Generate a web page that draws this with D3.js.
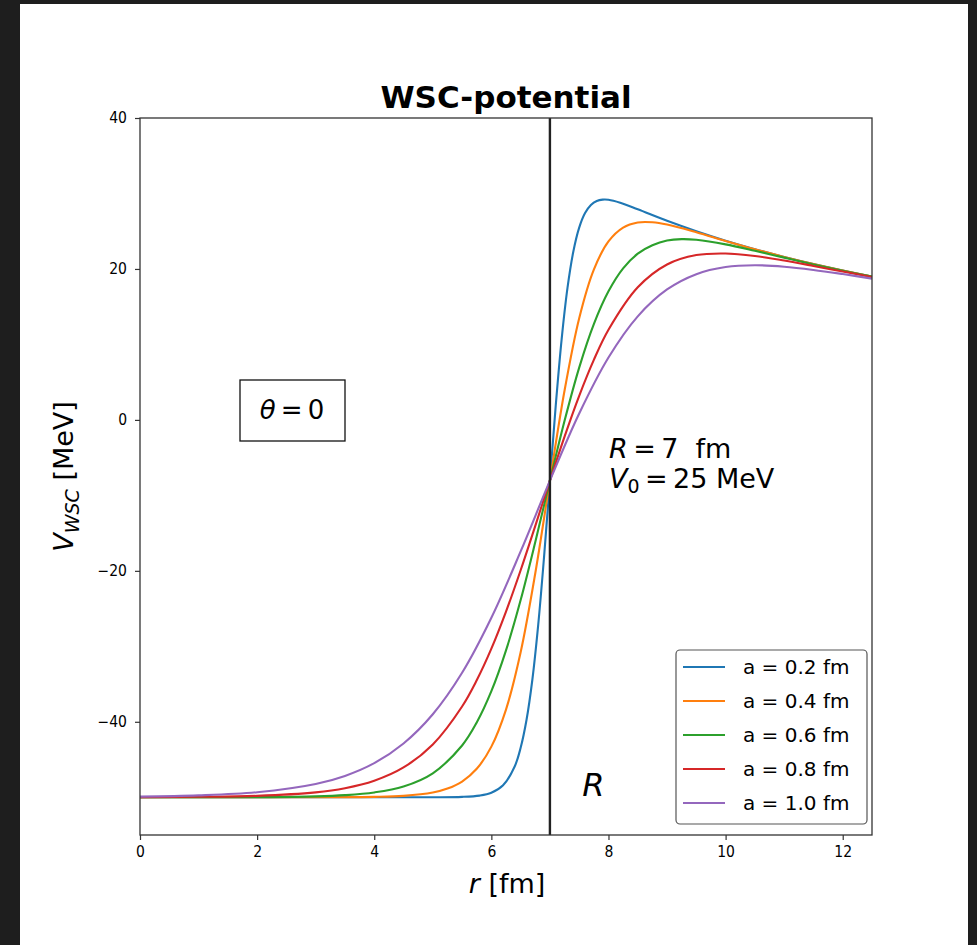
<!DOCTYPE html>
<html>
<head>
<meta charset="utf-8">
<script src="https://cdn.jsdelivr.net/npm/d3@7"></script>
<style>
  html, body { margin: 0; padding: 0; background: #1e1e1e; }
  svg { display: block; }
  text { font-family: "DejaVu Sans", sans-serif; fill: #000; }
</style>
</head>
<body>
<svg id="chart" width="977" height="945"></svg>
<script>
// ---- data ----
const seriesLabels = ["a = 0.2 fm", "a = 0.4 fm", "a = 0.6 fm", "a = 0.8 fm", "a = 1.0 fm"];
const seriesColors = ["#1f77b4", "#ff7f0e", "#2ca02c", "#d62728", "#9467bd"];

const rA02 = [0, 2, 4, 5, 5.5, 5.8, 6, 6.2, 6.4, 6.5, 6.6, 6.7, 6.8, 6.9, 7, 7.1, 7.2, 7.3, 7.4, 7.5, 7.6, 7.7, 7.8, 7.9, 8, 8.2, 8.5, 9, 9.5, 10, 10.5, 11, 11.5, 12, 12.5];
const vA02 = [-50, -50, -50, -50, -49.95, -49.78, -49.41, -48.42, -45.89, -43.45, -39.77, -34.43, -27.17, -18.14, -8.04, 1.95, 10.67, 17.48, 22.31, 25.47, 27.40, 28.47, 29.00, 29.18, 29.16, 28.77, 27.90, 26.38, 25.0, 23.75, 22.62, 21.59, 20.65, 19.79, 19.0];

const rA04 = [0, 2, 3, 4, 4.5, 5, 5.25, 5.5, 5.75, 6, 6.25, 6.5, 6.75, 7, 7.25, 7.5, 7.75, 8, 8.25, 8.5, 8.75, 9, 9.5, 10, 10.5, 11, 11.5, 12, 12.5];
const vA04 = [-50, -50, -50, -49.95, -49.82, -49.38, -48.85, -47.92, -46.23, -43.29, -38.38, -30.79, -20.32, -8.04, 3.90, 13.48, 19.92, 23.64, 25.47, 26.15, 26.18, 25.88, 24.86, 23.71, 22.61, 21.59, 20.65, 19.79, 19.0];

const rA06 = [0, 1, 2, 3, 3.5, 4, 4.5, 5, 5.5, 5.75, 6, 6.25, 6.5, 6.75, 7, 7.25, 7.5, 7.75, 8, 8.25, 8.5, 8.75, 9, 9.25, 9.5, 10, 10.5, 11, 11.5, 12, 12.5];
const vA06 = [-50, -50, -49.98, -49.88, -49.72, -49.36, -48.57, -46.82, -43.14, -40.10, -35.95, -30.54, -23.87, -16.18, -8.04, -0.12, 6.93, 12.69, 17.03, 20.07, 22.02, 23.13, 23.76, 23.95, 23.86, 23.26, 22.41, 21.50, 20.6, 19.76, 18.98];

const rA08 = [0, 1, 2, 3, 3.5, 4, 4.5, 5, 5.5, 5.75, 6, 6.25, 6.5, 6.75, 7, 7.25, 7.5, 7.75, 8, 8.5, 9, 9.5, 10, 10.5, 11, 11.5, 12, 12.5];
const vA08 = [-49.98, -49.94, -49.81, -49.35, -48.80, -47.81, -46.05, -43.0, -37.97, -34.50, -30.31, -25.40, -19.92, -14.04, -8.04, -2.21, 3.19, 7.95, 11.94, 17.57, 20.59, 21.84, 22.05, 21.72, 21.11, 20.40, 19.66, 18.93];

const rA10 = [0, 1, 2, 3, 3.5, 4, 4.5, 5, 5.5, 6, 6.5, 7, 7.5, 8, 8.5, 9, 9.5, 10, 10.5, 11, 11.5, 12, 12.5];
const vA10 = [-49.91, -49.75, -49.33, -48.24, -47.17, -45.48, -42.87, -39.0, -33.51, -26.22, -17.43, -8.04, 0.84, 8.26, 13.72, 17.28, 19.31, 20.25, 20.49, 20.30, 19.87, 19.32, 18.72];

const xTicks = [0, 2, 4, 6, 8, 10, 12];
const yTicks = [-40, -20, 0, 20, 40];
const xDomain = [0, 12.5];
const yDomain = [-55, 40];
const radiusR = 7;

const seriesR = [rA02, rA04, rA06, rA08, rA10];
const seriesV = [vA02, vA04, vA06, vA08, vA10];

// ---- layout ----
const svg = d3.select("#chart");
const L = 140, T = 118, Rr = 872, B = 835;

svg.append("rect").attr("x", 20).attr("y", 4).attr("width", 948).attr("height", 941).attr("fill", "#ffffff");

const x = d3.scaleLinear().domain(xDomain).range([L, Rr]);
const y = d3.scaleLinear().domain(yDomain).range([B, T]);

svg.append("defs").append("clipPath").attr("id", "clip")
  .append("rect").attr("x", L).attr("y", T).attr("width", Rr - L).attr("height", B - T);

const fmt = d => (d < 0 ? "\u2212" + Math.abs(d) : String(d));

// axes
const xAxis = svg.append("g").attr("transform", `translate(0,${B})`)
  .call(d3.axisBottom(x).tickValues(xTicks).tickSize(5).tickPadding(6).tickFormat(fmt));
const yAxis = svg.append("g").attr("transform", `translate(${L},0)`)
  .call(d3.axisLeft(y).tickValues(yTicks).tickSize(5).tickPadding(8).tickFormat(fmt));
[xAxis, yAxis].forEach(g => {
  g.select(".domain").remove();
  g.selectAll(".tick line").attr("stroke", "#333").attr("stroke-width", 1.2);
  g.selectAll(".tick text").style("font-size", "15.5px").attr("fill", "#222")
    .style("font-family", "'DejaVu Sans Condensed', 'DejaVu Sans', sans-serif")
    .style("font-stretch", "condensed");
});

// lines
const line = d3.line().curve(d3.curveCatmullRom.alpha(0.5)).x(d => x(d[0])).y(d => y(d[1]));
const plot = svg.append("g").attr("clip-path", "url(#clip)");
seriesR.forEach((rs, i) => {
  const pts = rs.map((r, j) => [r, seriesV[i][j]]);
  plot.append("path").datum(pts).attr("d", line)
    .attr("fill", "none").attr("stroke", seriesColors[i]).attr("stroke-width", 2.1);
});

// vertical line at R
plot.append("line").attr("x1", x(radiusR)).attr("x2", x(radiusR)).attr("y1", T).attr("y2", B)
  .attr("stroke", "#222").attr("stroke-width", 2.4);

// frame
svg.append("rect").attr("x", L).attr("y", T).attr("width", Rr - L).attr("height", B - T)
  .attr("fill", "none").attr("stroke", "#333").attr("stroke-width", 1.3);

// title
svg.append("text").attr("x", (L + Rr) / 2).attr("y", 108).attr("text-anchor", "middle")
  .attr("font-size", 31).attr("font-weight", "bold").text("WSC-potential");

// x label
const xl = svg.append("text").attr("x", (L + Rr) / 2 + 1).attr("y", 893).attr("text-anchor", "middle")
  .attr("font-size", 27);
xl.append("tspan").attr("font-style", "italic").text("r");
xl.append("tspan").text(" [fm]");

// y label
const yl = svg.append("text").attr("transform", `translate(73,${(T + B) / 2}) rotate(-90)`)
  .attr("text-anchor", "middle").attr("font-size", 27);
yl.append("tspan").attr("font-style", "italic").text("V");
yl.append("tspan").attr("font-style", "italic").attr("font-size", 19).attr("dy", 6).text("WSC");
yl.append("tspan").attr("dy", -6).text(" [MeV]");

// theta box
svg.append("rect").attr("x", 240).attr("y", 380).attr("width", 105).attr("height", 61)
  .attr("fill", "#fff").attr("stroke", "#111").attr("stroke-width", 1.3);
const th = svg.append("text").attr("x", 292).attr("y", 419).attr("text-anchor", "middle").attr("font-size", 26);
th.append("tspan").attr("font-style", "italic").text("\u03b8");
th.append("tspan").text("\u2009=\u20090");

// R and V0 annotation
const a1 = svg.append("text").attr("x", 609).attr("y", 458).attr("font-size", 27);
a1.append("tspan").attr("font-style", "italic").text("R");
a1.append("tspan").text("\u2009=\u20097\u00a0 fm");
const a2 = svg.append("text").attr("x", 609).attr("y", 488).attr("font-size", 27);
a2.append("tspan").attr("font-style", "italic").text("V");
a2.append("tspan").attr("font-size", 19).attr("dy", 5).text("0");
a2.append("tspan").attr("dy", -5).text("\u2009=\u200925 MeV");

// big R label
svg.append("text").attr("x", x(7.55)).attr("y", y(-49.8)).attr("font-size", 32)
  .attr("font-style", "italic").text("R");

// legend
const lg = svg.append("g");
lg.append("rect").attr("x", 676).attr("y", 650).attr("width", 191).attr("height", 174)
  .attr("rx", 4).attr("fill", "#fff").attr("stroke", "#555").attr("stroke-width", 1.2);
seriesLabels.forEach((lab, i) => {
  const yy = 667 + i * 34;
  lg.append("line").attr("x1", 683).attr("x2", 725).attr("y1", yy).attr("y2", yy)
    .attr("stroke", seriesColors[i]).attr("stroke-width", 2.1);
  lg.append("text").attr("x", 743).attr("y", yy + 7).attr("font-size", 20).text(lab);
});
</script>
</body>
</html>
